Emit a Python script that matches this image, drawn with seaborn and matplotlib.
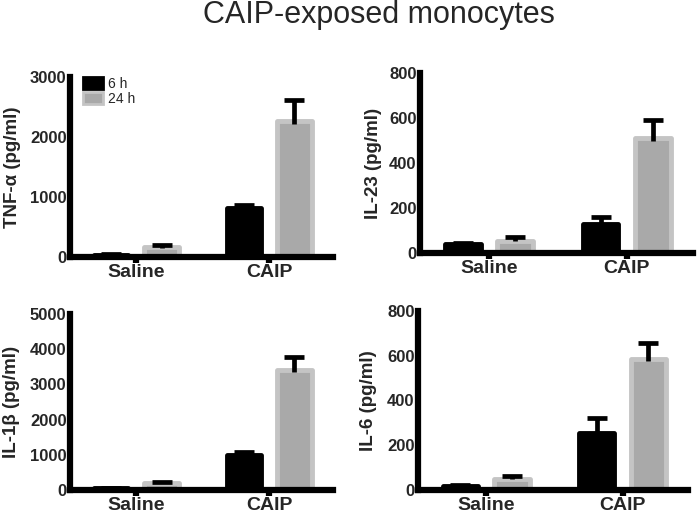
import numpy as np
import pandas as pd
import matplotlib
matplotlib.use("Agg")
import matplotlib.pyplot as plt
import seaborn as sns

# ---------------- data ----------------
groups = ["Saline", "CAIP"]
times = ["6 h", "24 h"]

# order of values: Saline 6 h, Saline 24 h, CAIP 6 h, CAIP 24 h
tnf_mean = [40, 160, 820, 2270]
tnf_sem = [6, 35, 50, 350]
il23_mean = [40, 55, 127, 512]
il23_sem = [5, 14, 33, 80]
il1b_mean = [60, 190, 995, 3400]
il1b_sem = [10, 30, 75, 370]
il6_mean = [18, 51, 253, 587]
il6_sem = [6, 11, 67, 72]

panels = [
    ("TNF-α (pg/ml)", tnf_mean, tnf_sem, [0, 1000, 2000, 3000]),
    ("IL-23 (pg/ml)", il23_mean, il23_sem, [0, 200, 400, 600, 800]),
    ("IL-1β (pg/ml)", il1b_mean, il1b_sem, [0, 1000, 2000, 3000, 4000, 5000]),
    ("IL-6 (pg/ml)", il6_mean, il6_sem, [0, 200, 400, 600, 800]),
]

title = "CAIP-exposed monocytes"

# ---------------- style ----------------
sns.set_theme(style="white")
plt.rcParams["font.family"] = ["Liberation Sans", "DejaVu Sans"]

W, H = 697, 518
fig = plt.figure(figsize=(W / 100, H / 100), dpi=100)

# axes rectangles in pixels: left, top, right, bottom
rects_px = [
    (70, 77, 333, 257),
    (420, 73, 693, 253),
    (70, 314, 333, 490),
    (418, 311, 688, 490),
]
label_x = [-0.186, -0.139, -0.19, -0.152]

palette = {"6 h": "black", "24 h": "#a9a9a9"}
edge = {"6 h": "black", "24 h": "#c4c4c4"}

for i, ((ylab, means, sems, yticks), (l, t, r, b)) in enumerate(zip(panels, rects_px)):
    ax = fig.add_axes([l / W, (H - b) / H, (r - l) / W, (b - t) / H])
    df = pd.DataFrame({
        "group": [g for g in groups for _ in times],
        "time": [tm for _ in groups for tm in times],
        "value": means,
        "sem": sems,
    })
    sns.barplot(data=df, x="group", y="value", hue="time", order=groups,
                hue_order=times, palette=palette, errorbar=None, width=0.76,
                gap=0.32, ax=ax, legend=(i == 0), saturation=1)
    bar_containers = list(ax.containers)
    for ci, cont in enumerate(bar_containers):
        tm = times[ci]
        for gi, patch in enumerate(cont):
            patch.set_edgecolor(edge[tm])
            patch.set_linewidth(3.5)
            patch.set_joinstyle("round")
            patch.set_zorder(2)
            err = df[(df["group"] == groups[gi]) & (df["time"] == tm)]["sem"].iloc[0]
            xc = patch.get_x() + patch.get_width() / 2
            top = patch.get_height()
            eb = ax.errorbar([xc], [top], yerr=[[err * 0.15], [err]],
                             fmt="none", ecolor="black", elinewidth=3.4,
                             capsize=7.5, capthick=3.4, zorder=3)
            # keep only the upper cap
            for cap in eb[1]:
                xs, ys = np.asarray(cap.get_xdata()), np.asarray(cap.get_ydata())
                keep = ys > top
                cap.set_data(xs[keep], ys[keep])
    ax.set_xlim(-0.5, 1.48)
    ax.set_ylim(0, yticks[-1])
    ax.set_yticks(yticks)
    ax.set_yticklabels([str(v) for v in yticks], fontsize=12, fontweight="bold")
    ax.set_xticks([0, 1])
    ax.set_xticklabels(groups, fontsize=14, fontweight="bold")
    ax.set_xlabel("")
    ax.set_ylabel(ylab, fontsize=13.5, fontweight="bold")
    ax.yaxis.set_label_coords(label_x[i], 0.5)
    sns.despine(ax=ax)
    for s in ("left", "bottom"):
        ax.spines[s].set_linewidth(4.5)
        ax.spines[s].set_color("black")
        ax.spines[s].set_zorder(4)
    ax.tick_params(axis="x", length=4, width=4.5, pad=1, color="black", bottom=True)
    ax.tick_params(axis="y", length=2, width=3, pad=0.5, color="black", left=True)
    ax.grid(False)

    if i == 0:
        handles, labels = ax.get_legend_handles_labels()
        for h in handles:
            h.set_linewidth(2.0)
        handles[0].set_edgecolor("black")
        handles[1].set_edgecolor("#c4c4c4")
        ax.legend(handles, labels, loc="upper left", bbox_to_anchor=(0.05, 1.0),
                  frameon=False, fontsize=10, handlelength=1.4, handleheight=0.95,
                  handletextpad=0.4, labelspacing=0.05, borderpad=0, borderaxespad=0)

fig.text(379 / W, (H - 23) / H, title, ha="center", va="baseline", fontsize=22)

fig.savefig("out.png", dpi=100)
